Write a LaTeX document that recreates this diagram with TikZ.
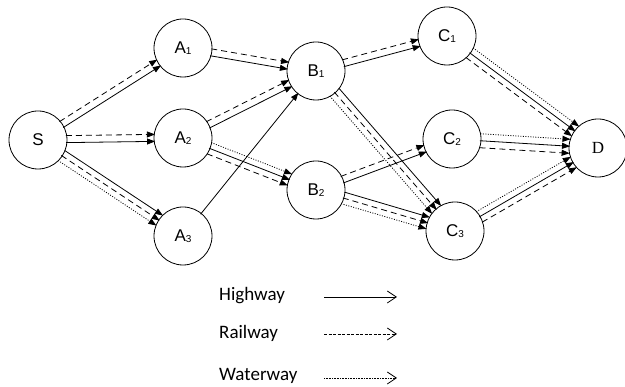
\documentclass[tikz,border=0pt]{standalone}
\usepackage{fontspec}
\setmainfont{Liberation Sans}
\newfontfamily\serifnode{Liberation Serif}
\newfontfamily\legendfont{Carlito}
\usetikzlibrary{arrows.meta,calc}

\tikzset{
  city/.style={circle,draw,line width=0.8pt,minimum size=58pt,inner sep=0pt,
    font=\fontsize{17}{17}\selectfont},
  link/.style={line width=0.8pt,-{Triangle[length=8pt,width=6pt]},
    shorten <=28pt, shorten >=28pt},
  hwy/.style={link},
  rail/.style={link,dash pattern=on 6pt off 4pt},
  water/.style={link,dash pattern=on 1pt off 1.5pt},
  legendtext/.style={anchor=west,inner sep=0pt,font=\legendfont\fontsize{19}{19}\selectfont},
  legendarrow/.style={line width=0.8pt,-{Straight Barb[length=9pt,width=12pt,line width=0.8pt]}},
}
% small index digit set just below the baseline
\newcommand\idx[1]{\raisebox{-1.5pt}{\fontsize{10}{10}\selectfont #1}}
% a route drawn parallel to the centre line, shifted sideways by #4
\newcommand\route[4]{\draw[#1] ($(#2)!#4!90:(#3)$) -- ($(#3)!#4!-90:(#2)$);}

\begin{document}
\begin{tikzpicture}[x=1pt,y=-1pt]
\useasboundingbox (0,0) rectangle (625,387);

\node[city] (S)  at (38,140)  {S};
\node[city] (A1) at (183,48)  {A\idx{1}};
\node[city] (A2) at (183,138) {A\idx{2}};
\node[city] (A3) at (183,236) {A\idx{3}};
\node[city] (B1) at (316,71)  {B\idx{1}};
\node[city] (B2) at (316,190) {B\idx{2}};
\node[city] (C1) at (447,36)  {C\idx{1}};
\node[city] (C2) at (452,139) {C\idx{2}};
\node[city] (C3) at (455,231) {C\idx{3}};
\node[city] (D)  at (598,148) {\serifnode D};

% S to A
\route{rail}{S}{A1}{4pt}
\route{hwy}{S}{A1}{-3pt}
\route{rail}{S}{A2}{4pt}
\route{hwy}{S}{A2}{-3pt}
\route{hwy}{S}{A3}{6pt}
\route{rail}{S}{A3}{0pt}
\route{water}{S}{A3}{-6pt}

% A to B
\route{rail}{A1}{B1}{4pt}
\route{hwy}{A1}{B1}{-3pt}
\route{rail}{A2}{B1}{4pt}
\route{hwy}{A2}{B1}{-3pt}
\route{hwy}{A3}{B1}{0pt}
\route{water}{A2}{B2}{6pt}
\route{hwy}{A2}{B2}{0pt}
\route{rail}{A2}{B2}{-6pt}

% B to C
\route{rail}{B1}{C1}{4pt}
\route{hwy}{B1}{C1}{-3pt}
\route{hwy}{B1}{C3}{6pt}
\route{rail}{B1}{C3}{0pt}
\route{water}{B1}{C3}{-6pt}
\route{rail}{B2}{C2}{4pt}
\route{hwy}{B2}{C2}{-3pt}
\route{hwy}{B2}{C3}{6pt}
\route{rail}{B2}{C3}{0pt}
\route{water}{B2}{C3}{-6pt}

% C to D
\route{water}{C1}{D}{6pt}
\route{hwy}{C1}{D}{0pt}
\route{rail}{C1}{D}{-6pt}
\route{water}{C2}{D}{7pt}
\route{hwy}{C2}{D}{0pt}
\route{rail}{C2}{D}{-7pt}
\route{water}{C3}{D}{6pt}
\route{hwy}{C3}{D}{0pt}
\route{rail}{C3}{D}{-6pt}

% legend
\node[legendtext] (lh) at (219,296) {Highway};
\node[legendtext] (lr) at (219,333) {Railway};
\node[legendtext] (lw) at (219,376) {Waterway};
\coordinate (h1) at (324,297); \coordinate (h2) at (397,297);
\coordinate (r1) at (324,334); \coordinate (r2) at (397,334);
\coordinate (w1) at (324,378); \coordinate (w2) at (397,378);
\draw[legendarrow] (h1) -- (h2);
\draw[legendarrow,dash pattern=on 3pt off 1.5pt] (r1) -- (r2);
\draw[legendarrow,dash pattern=on 0.8pt off 0.8pt] (w1) -- (w2);
\end{tikzpicture}
\end{document}
